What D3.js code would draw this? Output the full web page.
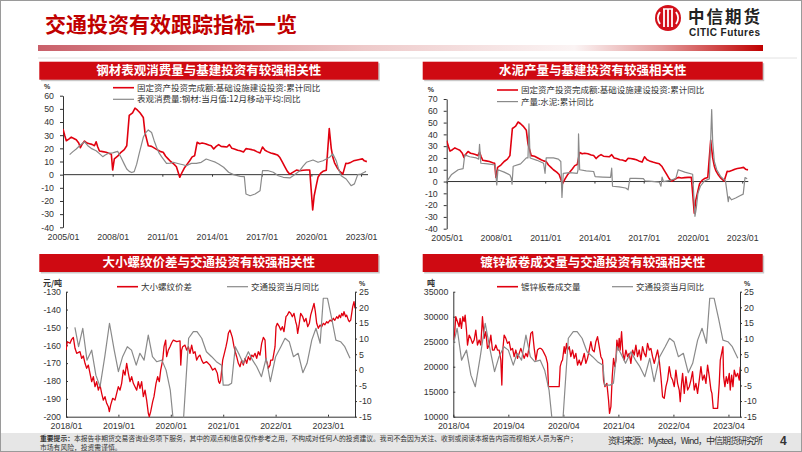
<!DOCTYPE html>
<html lang="zh">
  <head>
    <meta charset="UTF-8" />
    <title>交通投资有效跟踪指标一览</title>
    <script src="https://cdn.jsdelivr.net/npm/d3@7/dist/d3.min.js"></script>
    <style>
      body { margin: 0; background: #fff; }
      text { font-family: "Liberation Sans", Arial, sans-serif; }
      .cn { font-family: "Noto Sans CJK SC", sans-serif; }
    </style>
  </head>
  <body>
    <div id="chart"></div>
    <script>
      // ---- data (decimal year, value) ----
      const infraYoY = [[2005.0,34.7],[2005.1,30],[2005.2,25.8],[2005.35,27],[2005.5,28.5],[2005.65,27.5],[2005.8,26.5],[2005.95,24],[2006.05,20.5],[2006.15,23],[2006.3,25.5],[2006.45,24],[2006.6,23.5],[2006.75,23],[2006.9,22],[2007.0,25],[2007.1,21],[2007.2,18],[2007.4,17.5],[2007.6,17],[2007.8,16],[2007.92,15.5],[2008.0,3.5],[2008.1,12],[2008.3,14],[2008.5,17],[2008.7,19],[2008.85,22],[2009.0,45],[2009.1,46],[2009.2,47],[2009.35,50.5],[2009.5,49],[2009.65,47],[2009.85,43.5],[2009.95,32],[2010.05,27],[2010.15,22],[2010.35,21.5],[2010.55,20],[2010.75,18.5],[2010.9,17.5],[2011.05,17],[2011.2,14],[2011.35,12],[2011.5,10],[2011.7,8],[2011.85,6],[2012.05,-2],[2012.2,2],[2012.35,5.5],[2012.5,8],[2012.65,10.6],[2012.8,13.5],[2012.95,14.4],[2013.1,24.6],[2013.25,23.5],[2013.4,24],[2013.6,23.5],[2013.8,22.5],[2013.95,22],[2014.1,19.5],[2014.25,21.5],[2014.4,22.8],[2014.55,21.5],[2014.7,21.3],[2014.9,21],[2015.05,22.8],[2015.2,20],[2015.35,19.5],[2015.55,18.5],[2015.7,18.2],[2015.9,17.2],[2016.05,19.8],[2016.2,19.5],[2016.4,19],[2016.55,18.5],[2016.7,17.5],[2016.9,16.5],[2017.05,21],[2017.2,18.5],[2017.35,17.5],[2017.55,16.5],[2017.75,15.8],[2017.95,15],[2018.1,13],[2018.25,9.5],[2018.4,6],[2018.55,2.5],[2018.7,0.3],[2018.85,1.5],[2019.1,3.5],[2019.3,3],[2019.5,3.3],[2019.7,3.5],[2019.9,3.5],[2020.08,-26.8],[2020.17,-16],[2020.3,-8],[2020.4,-2],[2020.55,1],[2020.7,2.5],[2020.9,3.4],[2021.08,35],[2021.2,20],[2021.3,13],[2021.4,9],[2021.55,5.5],[2021.7,2.8],[2021.9,0.4],[2022.08,8.6],[2022.2,8.5],[2022.4,9.5],[2022.55,10.5],[2022.7,11],[2022.9,11.5],[2023.08,12],[2023.2,10.5],[2023.35,9.9]];

      const steelConsYoY = [[2005.4,15.2],[2005.6,17.5],[2005.8,19.5],[2006.05,22.5],[2006.3,25],[2006.5,22],[2006.7,20],[2007.0,18.2],[2007.2,16],[2007.4,13.7],[2007.55,15],[2007.75,16.3],[2008.0,16.5],[2008.3,17.7],[2008.5,13.2],[2008.7,8],[2008.85,4.3],[2009.0,2.5],[2009.15,1.6],[2009.3,2.3],[2009.45,8],[2009.6,16],[2009.85,28.4],[2010.0,32],[2010.15,34],[2010.35,32],[2010.5,26],[2010.65,20.8],[2010.8,16.5],[2010.95,13.7],[2011.25,8.6],[2011.5,8.8],[2011.65,9.4],[2012.05,8.1],[2012.25,7.5],[2012.45,6.8],[2012.75,8.6],[2013.05,8.6],[2013.35,9.4],[2013.65,11.9],[2013.95,10.6],[2014.2,9.5],[2014.4,8.1],[2014.7,5.6],[2015.0,1.8],[2015.3,0],[2015.7,-1.3],[2015.95,-1.5],[2016.05,-14.7],[2016.3,-16],[2016.6,-14.7],[2016.9,-12.2],[2017.05,3],[2017.4,3],[2017.7,1.8],[2018.0,-0.8],[2018.3,-2],[2018.7,-2.5],[2018.9,-0.8],[2019.1,1],[2019.3,3],[2019.5,6.5],[2019.7,9.4],[2020.1,11.1],[2020.4,9.4],[2020.7,10.6],[2021.1,13.2],[2021.3,15.7],[2021.5,10.6],[2021.65,4],[2021.8,-0.8],[2022.1,-3.3],[2022.4,-8.4],[2022.6,-7],[2022.8,0],[2023.0,0.5],[2023.2,1.8],[2023.3,2.5]];

      const cementYoY = [[2005.0,0],[2005.3,6],[2005.7,10],[2006.0,11],[2006.1,22.6],[2006.4,21],[2006.8,20],[2006.95,19],[2007.0,31.6],[2007.08,15.5],[2007.5,15],[2007.95,14],[2008.05,-2.8],[2008.12,10],[2008.5,8],[2008.85,5.6],[2008.93,3],[2008.98,-2.3],[2009.05,13],[2009.5,15],[2009.85,20],[2009.95,20],[2010.01,49],[2010.08,20],[2010.5,18],[2010.9,15.5],[2010.99,7],[2011.06,20],[2011.5,20],[2011.8,19],[2011.95,17],[2012.02,-13.5],[2012.1,7],[2012.5,7.5],[2012.95,7],[2013.0,10],[2013.03,40.4],[2013.1,10],[2013.5,9],[2013.95,8.5],[2014.04,4.2],[2014.5,3.8],[2014.98,3.5],[2015.05,11.3],[2015.1,-4],[2015.5,-4.5],[2015.9,-5.5],[2016.05,-7],[2016.16,2.8],[2016.5,2.7],[2016.98,2.5],[2017.08,0.6],[2017.5,0.2],[2017.95,-0.5],[2018.05,-4],[2018.12,3.7],[2018.2,0],[2018.6,1],[2018.95,2.5],[2019.1,10],[2019.5,8],[2019.98,6.2],[2020.12,-29.5],[2020.2,-23],[2020.3,-10],[2020.45,-4],[2020.7,0.5],[2021.0,2.3],[2021.14,61],[2021.2,34],[2021.3,17],[2021.45,10],[2021.7,4],[2021.98,0.6],[2022.15,-17],[2022.2,-12.7],[2022.35,-15.5],[2022.6,-14],[2022.86,-12],[2023.06,-10.7],[2023.17,3.4],[2023.3,2.3]];

      const rebarSpread = [[2018.0,-162.7],[2018.025,-158.0],[2018.076,-158.9],[2018.108,-156.7],[2018.14,-155.6],[2018.172,-161.7],[2018.204,-164.5],[2018.267,-163.6],[2018.299,-167.3],[2018.331,-166.0],[2018.363,-170.1],[2018.394,-172.9],[2018.426,-171.1],[2018.458,-175.7],[2018.49,-180.4],[2018.522,-177.6],[2018.553,-183.2],[2018.585,-180.4],[2018.617,-185.1],[2018.649,-182.3],[2018.681,-186.9],[2018.712,-190.7],[2018.744,-188.8],[2018.776,-192.5],[2018.808,-194.4],[2018.827,-197.2],[2018.852,-193.5],[2018.891,-189.7],[2018.935,-190.7],[2018.967,-186.9],[2018.999,-183.2],[2019.031,-185.1],[2019.062,-181.3],[2019.094,-173.9],[2019.126,-176.7],[2019.158,-170.1],[2019.19,-175.7],[2019.221,-180.4],[2019.253,-177.6],[2019.285,-181.3],[2019.317,-183.2],[2019.349,-185.1],[2019.38,-180.4],[2019.412,-184.1],[2019.444,-180.4],[2019.476,-188.8],[2019.508,-185.1],[2019.539,-190.7],[2019.571,-198.1],[2019.59,-200],[2019.616,-197.2],[2019.654,-191.6],[2019.679,-188.8],[2019.718,-181.3],[2019.749,-177.6],[2019.781,-180.4],[2019.807,-173.9],[2019.845,-168.3],[2019.87,-160.8],[2019.902,-157.1],[2019.921,-166.4],[2019.953,-162.7],[2019.985,-160.8],[2020.017,-158.6],[2020.048,-157.1],[2020.112,-158.0],[2020.176,-157.6],[2020.19,-171.1],[2020.207,-162.7],[2020.226,-160.8],[2020.271,-159.9],[2020.303,-162.7],[2020.335,-160.8],[2020.366,-164.5],[2020.398,-159.9],[2020.43,-164.5],[2020.462,-163.6],[2020.494,-168.3],[2020.525,-166.4],[2020.557,-165.5],[2020.589,-168.3],[2020.621,-170.1],[2020.684,-169.2],[2020.748,-171.1],[2020.799,-173.9],[2020.844,-172.9],[2020.888,-175.7],[2020.913,-180.4],[2020.933,-181.3],[2020.952,-179.5],[2020.971,-173.9],[2020.99,-168.3],[2021.022,-164.5],[2021.053,-160.8],[2021.079,-157.1],[2021.098,-153.3],[2021.13,-151.5],[2021.149,-153.3],[2021.174,-155.6],[2021.206,-160.8],[2021.238,-164.5],[2021.257,-166.4],[2021.289,-170.1],[2021.321,-172.0],[2021.353,-168.3],[2021.384,-171.1],[2021.416,-167.3],[2021.448,-170.1],[2021.48,-166.4],[2021.511,-168.3],[2021.543,-165.5],[2021.575,-166.4],[2021.607,-164.5],[2021.639,-167.3],[2021.67,-163.6],[2021.702,-165.5],[2021.734,-158.9],[2021.766,-155.6],[2021.798,-157.1],[2021.817,-168.3],[2021.842,-170.1],[2021.861,-172.9],[2021.893,-171.1],[2021.906,-168.3],[2021.944,-168.3],[2021.989,-160.8],[2022.008,-149.6],[2022.033,-147.7],[2022.071,-149.6],[2022.097,-151.5],[2022.129,-149.6],[2022.16,-152.4],[2022.198,-144.0],[2022.224,-143.1],[2022.256,-141.2],[2022.288,-142.1],[2022.319,-144.0],[2022.351,-142.1],[2022.383,-146.8],[2022.402,-148.7],[2022.421,-153.3],[2022.447,-148.7],[2022.478,-142.1],[2022.517,-144.0],[2022.548,-146.8],[2022.58,-144.9],[2022.612,-149.6],[2022.644,-147.7],[2022.669,-143.1],[2022.707,-139.3],[2022.733,-136.5],[2022.758,-141.2],[2022.784,-147.7],[2022.815,-150.5],[2022.847,-148.7],[2022.879,-149.6],[2022.911,-147.7],[2022.94,-148.5],[2022.975,-146.8],[2023.0,-147.5],[2023.038,-145.9],[2023.07,-146.5],[2023.102,-144.9],[2023.13,-146],[2023.165,-144.0],[2023.19,-145],[2023.216,-143.1],[2023.24,-144.5],[2023.261,-142.1],[2023.285,-143.5],[2023.305,-141.2],[2023.337,-144.0],[2023.356,-143.1],[2023.388,-145.9],[2023.407,-146.8],[2023.433,-145.9],[2023.452,-142.1],[2023.471,-138.4],[2023.496,-135.6],[2023.515,-139.3]];

      const transportYoY = [[2018.17,13.6],[2018.24,7.4],[2018.32,13.3],[2018.4,3.1],[2018.49,6.3],[2018.57,-1.7],[2018.65,-5.4],[2018.74,4.2],[2018.83,14.9],[2018.92,6.3],[2019.0,-0.6],[2019.08,4.2],[2019.17,7.4],[2019.25,6.3],[2019.34,1.5],[2019.41,5.3],[2019.49,3.1],[2019.57,11.1],[2019.65,4.2],[2019.73,2.6],[2019.83,3.1],[2019.91,-0.1],[2019.99,-6.5],[2020.08,-22],[2020.17,-35],[2020.34,10.1],[2020.43,12.2],[2020.5,12.2],[2020.59,10.1],[2020.68,5.8],[2020.78,4.2],[2020.87,2.6],[2020.97,1.5],[2021.0,-4.9],[2021.1,-4.9],[2021.16,-4.3],[2021.23,7.4],[2021.31,4.7],[2021.38,2.1],[2021.48,5.8],[2021.56,3.1],[2021.64,1.0],[2021.73,-2.2],[2021.82,3.7],[2021.9,-3.8],[2022.0,4.2],[2022.1,7.4],[2022.18,10.1],[2022.26,9.0],[2022.34,4.2],[2022.43,5.3],[2022.52,-0.9],[2022.6,2.1],[2022.69,9.5],[2022.77,13.3],[2022.85,8.5],[2022.91,22.9],[2022.99,22.9],[2023.07,16.5],[2023.15,9.5],[2023.24,9.0],[2023.32,7.4],[2023.42,3.7]];

      const galvVolume = [[2018.265,25333],[2018.295,30000],[2018.326,29000],[2018.356,28000],[2018.374,29667],[2018.398,27667],[2018.423,30000],[2018.447,29000],[2018.465,30333],[2018.489,27333],[2018.508,24333],[2018.538,26333],[2018.568,25667],[2018.598,24667],[2018.629,25333],[2018.659,27333],[2018.689,24333],[2018.72,25333],[2018.75,24333],[2018.78,30000],[2018.811,25667],[2018.841,27000],[2018.871,23667],[2018.902,24333],[2018.932,26333],[2018.962,23333],[2018.992,23333],[2019.023,24333],[2019.053,23333],[2019.083,23333],[2019.114,21333],[2019.132,16333],[2019.15,23333],[2019.174,26333],[2019.205,25667],[2019.235,24667],[2019.265,25000],[2019.295,23333],[2019.326,23667],[2019.356,22000],[2019.386,23333],[2019.417,21667],[2019.447,22667],[2019.477,23667],[2019.508,22667],[2019.538,21667],[2019.568,22667],[2019.598,22000],[2019.629,24000],[2019.659,26667],[2019.689,27000],[2019.72,23667],[2019.75,21333],[2019.78,23333],[2019.811,23667],[2019.841,23667],[2019.871,23333],[2019.902,22667],[2019.932,22000],[2019.962,20667],[2019.98,16000],[2020.144,16000],[2020.174,16000],[2020.192,20000],[2020.217,21000],[2020.235,21333],[2020.265,24000],[2020.283,22667],[2020.308,24667],[2020.326,23333],[2020.356,24000],[2020.386,22000],[2020.417,23333],[2020.447,21667],[2020.477,22667],[2020.508,20333],[2020.538,21333],[2020.568,20333],[2020.598,21333],[2020.629,22667],[2020.659,20667],[2020.689,21667],[2020.72,23333],[2020.75,25000],[2020.78,23333],[2020.811,23000],[2020.841,25000],[2020.871,26000],[2020.902,24000],[2020.932,22000],[2020.962,21333],[2020.98,17333],[2021.005,16000],[2021.041,16667],[2021.071,13333],[2021.089,10667],[2021.114,12000],[2021.138,18000],[2021.162,21667],[2021.186,20000],[2021.205,21333],[2021.223,25333],[2021.247,23333],[2021.265,25667],[2021.283,23333],[2021.308,27000],[2021.332,22667],[2021.356,21333],[2021.386,23333],[2021.417,22000],[2021.447,22667],[2021.477,20667],[2021.508,23333],[2021.538,22333],[2021.568,24333],[2021.598,22000],[2021.629,23333],[2021.659,21333],[2021.689,24000],[2021.72,22667],[2021.75,22000],[2021.78,24667],[2021.811,23333],[2021.841,23667],[2021.871,22000],[2021.902,20667],[2021.932,22000],[2021.962,23333],[2021.992,21333],[2022.023,18000],[2022.053,14000],[2022.083,13667],[2022.114,16000],[2022.144,17333],[2022.174,20000],[2022.205,18000],[2022.235,17333],[2022.265,16000],[2022.295,19333],[2022.326,16667],[2022.356,15333],[2022.374,13000],[2022.398,16667],[2022.417,18667],[2022.447,14667],[2022.477,18000],[2022.508,15333],[2022.538,16000],[2022.568,17333],[2022.598,19000],[2022.629,15333],[2022.659,16667],[2022.689,14667],[2022.72,17333],[2022.75,20000],[2022.78,17333],[2022.811,18333],[2022.841,16667],[2022.871,20333],[2022.902,18000],[2022.932,15333],[2022.95,14667],[2022.974,11667],[2023.053,11667],[2023.083,16667],[2023.102,21333],[2023.126,22667],[2023.15,24000],[2023.162,18000],[2023.186,16000],[2023.211,18000],[2023.235,16667],[2023.265,18667],[2023.283,15333],[2023.308,18333],[2023.332,16000],[2023.356,19333],[2023.386,18000],[2023.417,18667],[2023.447,17333],[2023.465,20000]];

      // ---- ticks / labels ----
      const longYears = [2005, 2008, 2011, 2014, 2017, 2020, 2023];
      const longYearLabels = ["2005/01", "2008/01", "2011/01", "2014/01", "2017/01", "2020/01", "2023/01"];
      const shortYears = [2018, 2019, 2020, 2021, 2022, 2023];
      const shortYearLabels = ["2018/01", "2019/01", "2020/01", "2021/01", "2022/01", "2023/01"];
      const aprYears = [2018.25, 2019.25, 2020.25, 2021.25, 2022.25, 2023.25];
      const aprYearLabels = ["2018/04", "2019/04", "2020/04", "2021/04", "2022/04", "2023/04"];

      const RED = "#e1000f";
      const GRAY = "#8a8a8a";
      const INK = "#333";

      const svg = d3.select("#chart").append("svg").attr("width", 802).attr("height", 452);
      const defs = svg.append("defs");

      // ---- slide frame, header ----
      svg.append("rect").attr("x", 0.5).attr("y", 0.5).attr("width", 801).attr("height", 451)
        .attr("fill", "#fff").attr("stroke", "#9a9a9a");

      const hg = defs.append("linearGradient").attr("id", "hdrGrad");
      [["0%", "#c9606a"], ["45%", "#eecaca"], ["74%", "#fbf4f4"], ["86%", "#e39a9a"], ["100%", "#c00000"]]
        .forEach(s => hg.append("stop").attr("offset", s[0]).attr("stop-color", s[1]));
      svg.append("rect").attr("x", 38).attr("y", 45).attr("width", 725).attr("height", 6).attr("fill", "url(#hdrGrad)");
      svg.append("line").attr("x1", 38).attr("x2", 797).attr("y1", 58).attr("y2", 58)
        .attr("stroke", "#e2e2e2");

      svg.append("text").attr("class", "cn").attr("x", 45).attr("y", 32)
        .attr("font-size", 21).attr("font-weight", "bold").attr("fill", "#c00000")
        .text("交通投资有效跟踪指标一览");

      // logo
      const logo = svg.append("g").attr("transform", "translate(668,18)");
      logo.append("circle").attr("r", 13).attr("fill", "#d2101a");
      logo.append("path").attr("d", "M-8,-6 A10,10 0 0,0 -8,6 M8,-6 A10,10 0 0,1 8,6")
        .attr("fill", "none").attr("stroke", "#fff").attr("stroke-width", 2);
      [-4, 0, 4].forEach(dx => logo.append("line").attr("x1", dx).attr("x2", dx)
        .attr("y1", -9).attr("y2", 9).attr("stroke", "#fff").attr("stroke-width", 1.8));
      logo.append("line").attr("x1", -5).attr("x2", 5).attr("y1", -9).attr("y2", -9)
        .attr("stroke", "#fff").attr("stroke-width", 1.5);
      svg.append("text").attr("class", "cn").attr("x", 688).attr("y", 22.5).attr("font-size", 16.5)
        .attr("font-weight", "bold").attr("fill", "#222").attr("textLength", 72).text("中信期货");
      svg.append("text").attr("x", 689).attr("y", 35.5).attr("font-size", 10)
        .attr("font-weight", "bold").attr("fill", "#222").attr("textLength", 71).text("CITIC Futures");

      // ---- footer ----
      svg.append("rect").attr("x", 1).attr("y", 433).attr("width", 800).attr("height", 18).attr("fill", "#e6e6e6");
      const ft = svg.append("text").attr("class", "cn").attr("x", 40).attr("y", 441)
        .attr("font-size", 6.8).attr("fill", "#333");
      ft.append("tspan").attr("font-weight", "bold").text("重要提示：");
      ft.append("tspan").text("本报告非期货交易咨询业务项下服务，其中的观点和信息仅作参考之用，不构成对任何人的投资建议。我司不会因为关注、收到或阅读本报告内容而视相关人员为客户；");
      svg.append("text").attr("class", "cn").attr("x", 40).attr("y", 449.5)
        .attr("font-size", 6.8).attr("fill", "#333").text("市场有风险，投资需谨慎。");
      svg.append("text").attr("class", "cn").attr("x", 608).attr("y", 444)
        .attr("font-size", 9).attr("fill", "#333").attr("textLength", 155).text("资料来源：Mysteel，Wind，中信期货研究所");
      svg.append("text").attr("x", 780).attr("y", 445).attr("font-size", 12).attr("font-weight", "bold")
        .attr("fill", "#333").text("4");

      // ---- helpers ----
      function panelTitle(x0, x1, y0, label) {
        svg.append("rect").attr("x", x0 + 1.5).attr("y", y0 + 1.5).attr("width", x1 - x0)
          .attr("height", 18).attr("fill", "#c9c9c9");
        svg.append("rect").attr("x", x0).attr("y", y0).attr("width", x1 - x0)
          .attr("height", 18).attr("fill", "#cf0a12");
        svg.append("text").attr("class", "cn").attr("x", (x0 + x1) / 2).attr("y", y0 + 13.3)
          .attr("text-anchor", "middle").attr("font-size", 12.5).attr("font-weight", "bold")
          .attr("fill", "#fff").text(label);
      }

      function legendItem(x, y, color, label, len) {
        svg.append("line").attr("x1", x).attr("x2", x + len).attr("y1", y).attr("y2", y)
          .attr("stroke", color).attr("stroke-width", color === RED ? 1.6 : 1.2);
        svg.append("text").attr("class", "cn").attr("x", x + len + 3).attr("y", y + 3)
          .attr("font-size", 8.5).attr("fill", INK).text(label);
      }

      function styleAxis(g) {
        g.selectAll("text").attr("font-size", 8.8).attr("fill", INK)
          .attr("font-family", "'Liberation Sans', Arial, sans-serif");
        g.select(".domain").attr("stroke", INK);
        g.selectAll(".tick line").attr("stroke", INK);
      }

      let clipN = 0;
      function clipRect(x0, y0, x1, y1) {
        const id = "clip" + (clipN++);
        defs.append("clipPath").attr("id", id).append("rect")
          .attr("x", x0).attr("y", y0 - 1).attr("width", x1 - x0).attr("height", y1 - y0 + 2);
        return "url(#" + id + ")";
      }

      function drawLine(data, x, y, color, width, clip) {
        svg.append("path").datum(data).attr("clip-path", clip)
          .attr("fill", "none").attr("stroke", color).attr("stroke-width", width)
          .attr("stroke-linejoin", "round")
          .attr("d", d3.line().x(d => x(d[0])).y(d => y(d[1])));
      }

      const plain = d => String(d);

      // ---- charts 1 & 2: long monthly history ----
      function longChart(xr, yDom, yr, grayData, grayLabel, title, tx, legX, legY) {
        panelTitle(tx[0], tx[1], 61.7, title);
        const x = d3.scaleLinear().domain([2005, xr[2]]).range([xr[0], xr[1]]);
        const y = d3.scaleLinear().domain(yDom).range(yr);
        svg.append("g").attr("transform", `translate(${xr[0]},0)`)
          .call(d3.axisLeft(y).tickValues(d3.range(yDom[0], yDom[1] + 1, 10))
            .tickSizeInner(3).tickSizeOuter(0).tickPadding(6).tickFormat(plain))
          .call(styleAxis);
        svg.append("line").attr("x1", xr[0]).attr("x2", xr[1]).attr("y1", y(0)).attr("y2", y(0))
          .attr("stroke", INK).attr("stroke-width", 1);
        svg.append("g").attr("transform", `translate(0,${y(0)})`)
          .call(d3.axisBottom(x).tickValues(longYears).tickSize(2).tickFormat(""))
          .call(g => g.select(".domain").remove())
          .call(g => g.selectAll(".tick line").attr("stroke", INK));
        svg.append("g").attr("transform", `translate(0,${yr[0]})`)
          .call(d3.axisBottom(x).tickValues(longYears).tickSize(0).tickPadding(6.5)
            .tickFormat((d, i) => longYearLabels[i]))
          .call(g => g.select(".domain").remove())
          .call(styleAxis);
        svg.append("text").attr("x", xr[0] - 19).attr("y", yr[1] - 7).attr("font-size", 7)
          .attr("font-weight", "bold").attr("fill", INK).text("%");
        const clip = clipRect(xr[0], yr[1], xr[1] + 2, yr[0]);
        drawLine(infraYoY, x, y, RED, 1.6, clip);
        drawLine(grayData, x, y, GRAY, 1.2, clip);
        legendItem(legX, legY, RED, "固定资产投资完成额:基础设施建设投资:累计同比", 21);
        legendItem(legX, legY + 11.6, GRAY, grayLabel, 21);
      }

      longChart([63, 368, 2023.42], [-40, 60], [227.3, 95.7], steelConsYoY,
        "表观消费量:钢材:当月值:12月移动平均:同比", "钢材表观消费量与基建投资有较强相关性",
        [39.3, 378.3], 113, 87.7);
      longChart([446.7, 748.3, 2023.37], [-40, 70], [228.7, 99], cementYoY,
        "产量:水泥:累计同比", "水泥产量与基建投资有较强相关性",
        [422.7, 762.7], 497, 90);

      // ---- charts 3 & 4: dual axis ----
      function dualChart(o) {
        panelTitle(o.tx[0], o.tx[1], 254, o.title);
        const x = d3.scaleLinear().domain(o.xDom).range([o.left, o.right]);
        const yL = d3.scaleLinear().domain(o.lDom).range([416.7, 291.7]);
        const yR = d3.scaleLinear().domain([-15, 25]).range([416.7, 291.7]);
        svg.append("g").attr("transform", `translate(${o.left},0)`)
          .call(d3.axisLeft(yL).tickValues(d3.range(o.lDom[0], o.lDom[1] + 1, o.lStep))
            .tickSizeInner(-2).tickSizeOuter(0).tickPadding(5).tickFormat(plain))
          .call(styleAxis);
        svg.append("g").attr("transform", `translate(${o.right},0)`)
          .call(d3.axisRight(yR).tickValues(d3.range(-15, 26, 5))
            .tickSizeInner(2).tickSizeOuter(0).tickPadding(2).tickFormat(plain))
          .call(styleAxis);
        svg.append("g").attr("transform", "translate(0,416.7)")
          .call(d3.axisBottom(x).tickValues(o.ticks).tickSizeInner(-2).tickSizeOuter(0).tickPadding(6)
            .tickFormat((d, i) => o.labels[i]))
          .call(styleAxis);
        svg.append("text").attr("class", "cn").attr("x", o.unitX).attr("y", 285.5)
          .attr("font-size", 8).attr("font-weight", "bold").attr("fill", INK).text(o.unit);
        svg.append("text").attr("x", o.right + 4).attr("y", 285.5)
          .attr("font-size", 7).attr("font-weight", "bold").attr("fill", INK).text("%");
        const clip = clipRect(o.left, 291.7, o.right, 416.7);
        drawLine(o.red, x, yL, RED, 1.3, clip);
        drawLine(transportYoY, x, yR, GRAY, 1.2, clip);
        legendItem(o.legX[0], 286.7, RED, o.redLabel, 21);
        legendItem(o.legX[1], 286.7, GRAY, "交通投资当月同比", 21);
      }

      dualChart({
        title: "大小螺纹价差与交通投资有较强相关性", tx: [39.3, 378.3],
        xDom: [2018, 2023.515], left: 66, right: 355,
        lDom: [-200, -130], lStep: 10, ticks: shortYears, labels: shortYearLabels,
        unit: "元/吨", unitX: 43, red: rebarSpread, redLabel: "大小螺纹价差", legX: [117, 227]
      });
      dualChart({
        title: "镀锌板卷成交量与交通投资有较强相关性", tx: [422.7, 762.7],
        xDom: [2018.25, 2023.46], left: 453.3, right: 740,
        lDom: [10000, 35000], lStep: 5000, ticks: aprYears, labels: aprYearLabels,
        unit: "吨", unitX: 427, red: galvVolume, redLabel: "镀锌板卷成交量", legX: [497, 612]
      });
    </script>
  </body>
</html>
